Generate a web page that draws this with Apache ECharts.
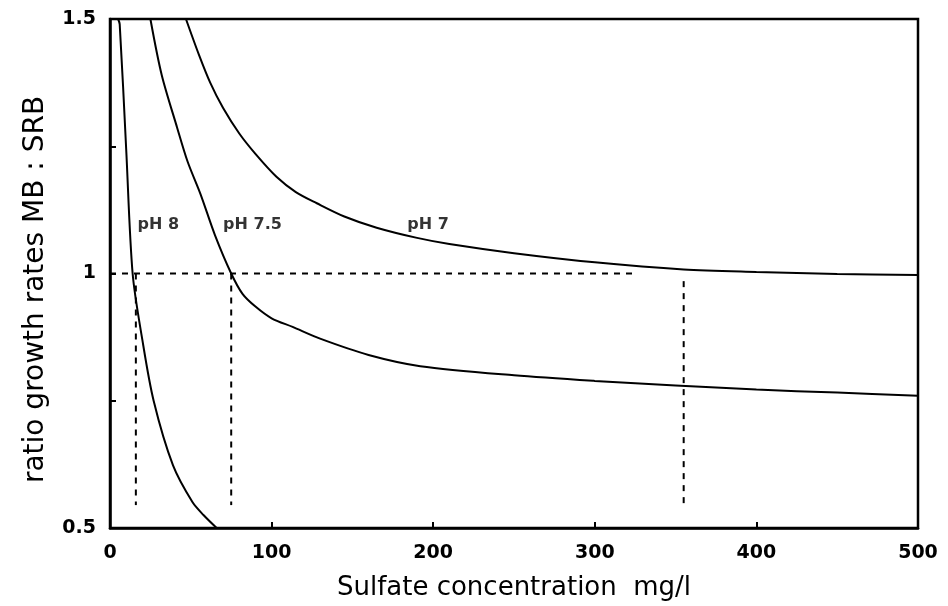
<!DOCTYPE html>
<html>
<head>
<meta charset="utf-8">
<title>ratio growth rates MB : SRB</title>
<script src="https://cdn.jsdelivr.net/npm/echarts@6/dist/echarts.min.js"></script>
<style>
  html, body { margin: 0; padding: 0; background: #fff; }
  #chart { width: 948px; height: 606px; }
</style>
</head>
<body>
<div id="chart"></div>
<script>
// values
const xTicks = [0, 100, 200, 300, 400, 500]
const yTicks = [0.5, 1, 1.5]

const ph8X = [5, 6, 10, 14, 20, 27, 39, 51, 58, 66]
const ph8Y = [1.5, 1.49, 1.245, 1.0, 0.87, 0.75, 0.623, 0.551, 0.525, 0.5]

const ph75X = [25, 32, 41.5, 48, 56, 65, 75, 82, 90, 100, 113, 130, 160, 192, 250, 300, 350, 400, 450, 500]
const ph75Y = [1.5, 1.39, 1.287, 1.22, 1.156, 1.075, 1.0, 0.96, 0.935, 0.912, 0.895, 0.872, 0.84, 0.818, 0.8, 0.789, 0.78, 0.772, 0.766, 0.76]

const ph7X = [47, 55, 62, 70, 80, 90, 103, 115, 128, 145, 165, 190, 210, 250, 300, 355, 400, 450, 500]
const ph7Y = [1.5, 1.43, 1.375, 1.325, 1.275, 1.235, 1.19, 1.16, 1.138, 1.112, 1.09, 1.07, 1.058, 1.04, 1.022, 1.008, 1.003, 0.999, 0.997]

// dashed guide lines
const guideH = [[0, 1], [325, 1]]
const guideV8 = [[16, 1], [16, 0.545]]
const guideV75 = [[75, 1], [75, 0.545]]
const guideV7 = [[355, 0.985], [355, 0.545]]

const curveLabels = [[17, 1.095, 'pH 8'], [70, 1.095, 'pH 7.5'], [184, 1.095, 'pH 7']]

const zip = (xs, ys) => xs.map((x, i) => [x, ys[i]])

const font = 'DejaVu Sans, Verdana, sans-serif'

const chart = echarts.init(document.getElementById('chart'))

const curve = (name, data) => ({
  name: name,
  type: 'line',
  data: data,
  smooth: 0.3,
  symbol: 'none',
  lineStyle: { color: '#000', width: 2 },
  z: 3
})

const guide = (data) => ({
  type: 'line',
  data: data,
  symbol: 'none',
  lineStyle: { color: '#000', width: 2, type: [6, 6] },
  silent: true,
  z: 2
})

chart.setOption({
  backgroundColor: '#fff',
  animation: false,
  grid: {
    left: 110,
    right: 30,
    top: 19,
    bottom: 74,
    show: true,
    borderColor: '#000',
    borderWidth: 2.5
  },
  xAxis: {
    type: 'value',
    min: 0,
    max: 500,
    interval: 100,
    name: 'Sulfate concentration  mg/l',
    nameLocation: 'middle',
    nameGap: 47,
    nameTextStyle: { color: '#000', fontSize: 26, fontFamily: font },
    axisLine: { show: true, lineStyle: { color: '#000', width: 2.5 } },
    axisTick: { show: true, inside: true, length: 6, lineStyle: { color: '#000', width: 2 } },
    axisLabel: {
      color: '#000',
      fontSize: 19,
      fontWeight: 'bold',
      fontFamily: font,
      margin: 16,
      formatter: (v) => (xTicks.includes(v) ? String(v) : '')
    },
    splitLine: { show: false }
  },
  yAxis: {
    type: 'value',
    min: 0.5,
    max: 1.5,
    interval: 0.25,
    name: 'ratio growth rates MB : SRB',
    nameLocation: 'middle',
    nameGap: 60,
    nameTextStyle: {
      color: '#000',
      fontSize: 28,
      fontFamily: font,
      padding: [0, 32, 0, 0]
    },
    axisLine: { show: true, lineStyle: { color: '#000', width: 2.5 } },
    axisTick: { show: true, inside: true, length: 6, lineStyle: { color: '#000', width: 2 } },
    axisLabel: {
      color: '#000',
      fontSize: 19,
      fontWeight: 'bold',
      fontFamily: font,
      margin: 14,
      formatter: (v) => (yTicks.includes(v) ? String(v) : '')
    },
    splitLine: { show: false }
  },
  series: [
    curve('pH 8', zip(ph8X, ph8Y)),
    curve('pH 7.5', zip(ph75X, ph75Y)),
    curve('pH 7', zip(ph7X, ph7Y)),
    guide(guideH),
    guide(guideV8),
    guide(guideV75),
    guide(guideV7),
    {
      type: 'scatter',
      symbolSize: 0,
      silent: true,
      data: curveLabels.map((p) => ({ value: [p[0], p[1]], name: p[2] })),
      label: {
        show: true,
        position: 'right',
        distance: 0,
        formatter: (p) => p.name,
        color: '#000',
        fontSize: 16,
        fontWeight: 'bold',
        fontFamily: font
      },
      z: 4
    }
  ]
})
</script>
</body>
</html>
